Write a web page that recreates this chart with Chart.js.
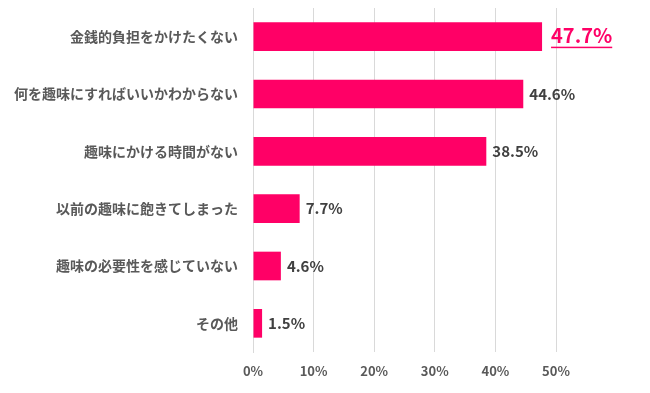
<!DOCTYPE html>
<html><head><meta charset="utf-8">
<script src="https://cdn.jsdelivr.net/npm/chart.js@4"></script>
<style>html,body{margin:0;padding:0;background:#fff}#wrap{width:650px;height:393px}</style>
</head><body><div id="wrap"><canvas id="c" width="650" height="393"></canvas></div>
<script>
const categories = ["金銭的負担をかけたくない","何を趣味にすればいいかわからない","趣味にかける時間がない","以前の趣味に飽きてしまった","趣味の必要性を感じていない","その他"];
const values = [47.7, 44.6, 38.5, 7.7, 4.6, 1.5];
const valueLabels = ["47.7%","44.6%","38.5%","7.7%","4.6%","1.5%"];
const xTicks = [0,10,20,30,40,50];

const FONT = '"Noto Sans CJK JP", "Noto Sans", sans-serif';

const labelPlugin = {
  id: 'valueLabels',
  afterDatasetsDraw(chart) {
    const ctx = chart.ctx;
    const meta = chart.getDatasetMeta(0);
    ctx.save();
    meta.data.forEach((bar, i) => {
      const txt = valueLabels[i];
      ctx.textBaseline = 'middle';
      ctx.textAlign = 'left';
      if (i === 0) {
        ctx.font = 'bold 20px ' + FONT;
        ctx.fillStyle = '#FF0066';
        const x = bar.x + 9;
        ctx.fillText(txt, x, bar.y - 1);
        const w = ctx.measureText(txt).width;
        ctx.fillRect(x, bar.y + 10, w, 1.5);
      } else {
        ctx.font = 'bold 15px ' + FONT;
        ctx.fillStyle = '#404040';
        ctx.fillText(txt, bar.x + 6, bar.y);
      }
    });
    ctx.restore();
  }
};

new Chart(document.getElementById('c'), {
  type: 'bar',
  data: {
    labels: categories,
    datasets: [{
      data: values,
      backgroundColor: '#FF0066',
      borderWidth: 0,
      barPercentage: 0.5,
      categoryPercentage: 1.0
    }]
  },
  options: {
    indexAxis: 'y',
    responsive: false,
    animation: false,
    devicePixelRatio: 1,
    layout: { padding: { top: 8, right: 94, left: 0, bottom: 0 } },
    plugins: { legend: { display: false }, tooltip: { enabled: false } },
    scales: {
      x: {
        min: 0, max: 50,
        afterBuildTicks(s) { s.ticks = xTicks.map(v => ({ value: v })); },
        afterFit(s) { s.height = 41; s.paddingLeft = 0; s.paddingRight = 0; },
        grid: { color: '#D9D9D9', drawTicks: false, lineWidth: 1 },
        border: { display: false },
        ticks: {
          padding: 11,
          color: '#595959',
          font: { family: FONT, size: 13, weight: 'bold' },
          callback: v => v + '%'
        }
      },
      y: {
        afterFit(s) { s.width = 253; s.paddingTop = 0; s.paddingBottom = 0; },
        grid: { display: false, drawTicks: false },
        border: { display: true, color: '#D9D9D9' },
        ticks: {
          padding: 15,
          color: '#595959',
          font: { family: FONT, size: 14, weight: 'bold' }
        }
      }
    }
  },
  plugins: [labelPlugin]
});
</script>
</body></html>
